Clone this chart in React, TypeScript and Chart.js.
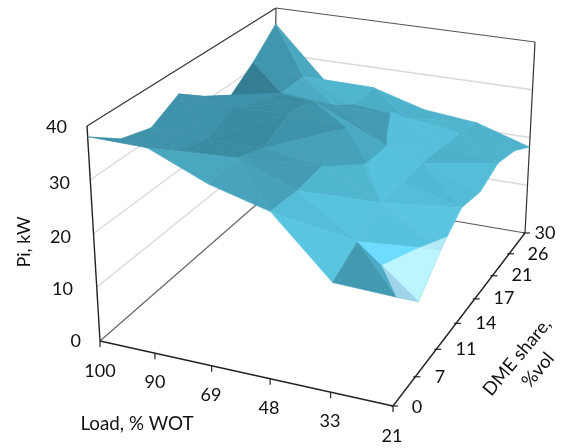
import React, { useEffect, useRef } from "react";
import { Chart, registerables } from "chart.js";
Chart.register(...registerables);

const loadTicks = ["100", "90", "69", "48", "33", "21"];
const dmeTicks = ["0", "7", "11", "14", "17", "21", "26", "30"];
const zTicks = [0, 10, 20, 30, 40];
// Pi, kW: one row per load, one value per DME share
const pi100 = [38, 33.7, 32, 35, 31, 27.4, 31.4, 36.5];
const pi90 = [37.8, 33.4, 31.5, 34, 31.5, 29.8, 29.8, 25.8];
const pi69 = [33, 33.7, 31.6, 34.5, 33.4, 28.9, 25.5, 25.6];
const pi48 = [30, 29.5, 30, 33.4, 22.6, 22.3, 24.4, 22.5];
const pi33 = [19.4, 22.2, 25, 24.7, 24.5, 23.8, 22.9, 21.4];
const pi21 = [19, 13.5, 18.3, 21.8, 20.7, 22.4, 21, 18];
const piRows = [pi100, pi90, pi69, pi48, pi33, pi21];

// lighting of each facet: 0 is the darkest teal, 1 the brightest blue
const facetLight: number[][][] = [
  [[.28, .28], [.28, .28], [.28, .28], [.28, .28], [.28, .27], [.02, .33], [.33, .55]],
  [[.22, .55], [.2, .2], [.2, .18], [.22, .22], [.2, .42], [.6, .68], [.72, .72]],
  [[.5, .48], [.38, .4], [.29, .45], [.3, .33], [.36, .58], [.36, .4], [.62, .68]],
  [[.82, .92], [.72, .9], [.72, .78], [.8, .72], [.88, .85], [.85, .85], [.68, .72]],
  [[.38, .6], [.88, 1], [.82, .92], [.75, .8], [.65, .82], [.7, .7], [.68, .68]],
];

// projection of the plot box on the page
const floorQuad = [[100, 341], [393, 406], [525, 233], [273, 190]];
const topQuad = [[87, 126], [401, 177], [535, 42], [276, 8]];

function homography(q: number[][]) {
  const [[x0, y0], [x1, y1], [x2, y2], [x3, y3]] = q;
  const dx1 = x1 - x2, dx2 = x3 - x2, sx = x0 - x1 + x2 - x3;
  const dy1 = y1 - y2, dy2 = y3 - y2, sy = y0 - y1 + y2 - y3;
  const den = dx1 * dy2 - dx2 * dy1;
  const g = (sx * dy2 - dx2 * sy) / den, h = (dx1 * sy - sx * dy1) / den;
  const a = x1 - x0 + g * x1, b = x3 - x0 + h * x3, d = y1 - y0 + g * y1, e = y3 - y0 + h * y3;
  return (s: number, t: number) => {
    const w = g * s + h * t + 1;
    return [(a * s + b * t + x0) / w, (d * s + e * t + y0) / w];
  };
}
const floorH = homography(floorQuad);
const topH = homography(topQuad);
const nI = loadTicks.length - 1, nJ = dmeTicks.length - 1;
function project(i: number, j: number, z: number) {
  const f = floorH(i / nI, j / nJ), t = topH(i / nI, j / nJ), k = z / 40;
  return { x: f[0] + (t[0] - f[0]) * k, y: f[1] + (t[1] - f[1]) * k };
}

const dark = [50, 124, 144], bright = [92, 203, 232];
function shade(t: number) {
  const c = Math.max(0, Math.min(1, t));
  return `rgb(${dark.map((d, n) => Math.round(d + (bright[n] - d) * c)).join(",")})`;
}
type V = [number, number, number];
function poly(vs: V[], color: string) {
  const data = vs.map((v) => project(v[0], v[1], v[2]));
  data.push(data[0]);
  return { data, showLine: true, fill: "shape", backgroundColor: color, borderColor: color, borderWidth: 0.6, pointRadius: 0, tension: 0 };
}
function seg(a: V, b: V, color: string, w: number) {
  return { data: [project(a[0], a[1], a[2]), project(b[0], b[1], b[2])], showLine: true, fill: false, borderColor: color, borderWidth: w, pointRadius: 0 };
}

function buildDatasets() {
  const out: any[] = [];
  // walls
  zTicks.slice(1, 4).forEach((z) => {
    out.push(seg([0, 0, z], [0, nJ, z], "#d9d9d9", 1.4));
    out.push(seg([0, nJ, z], [nI, nJ, z], "#d9d9d9", 1.4));
  });
  out.push(seg([0, 0, 0], [0, nJ, 0], "#666", 1.2));
  out.push(seg([0, nJ, 0], [nI, nJ, 0], "#555", 1.2));
  out.push(seg([0, nJ, 0], [0, nJ, 40], "#444", 1.2));
  out.push(seg([0, 0, 40], [0, nJ, 40], "#333", 1.2));
  out.push(seg([0, nJ, 40], [nI, nJ, 40], "#555", 1.2));
  out.push(seg([nI, nJ, 0], [nI, nJ, 40], "#333", 1.2));
  out.push(seg([0, 0, 0], [0, 0, 40], "#222", 1.4));
  out.push(seg([0, 0, 0], [nI, 0, 0], "#222", 1.4));
  out.push(seg([nI, 0, 0], [nI, nJ, 0], "#222", 1.4));
  // surface, back to front
  for (let i = 0; i < nI; i++) {
    for (let j = nJ - 1; j >= 0; j--) {
      const p = (ii: number, jj: number): V => [ii, jj, piRows[ii][jj]];
      const a = p(i, j), b = p(i + 1, j), c = p(i + 1, j + 1), d = p(i, j + 1);
      const tris: V[][] = a[2] + c[2] >= b[2] + d[2] ? [[a, c, d], [a, b, c]] : [[a, b, d], [b, c, d]];
      tris.forEach((t, n) => out.push(poly(t, shade(facetLight[i][j][n]))));
    }
  }
  // the folded middle of the surface
  out.push(poly([[3, 3, 33.4], [3, 4, 22.6], [3, 5, 22.3]], shade(.58)));
  out.push(poly([[3, 3, 33.4], [3, 2, 30], [3, 4, 22.6]], shade(.48)));
  out.push(poly([[3, 4, 22.6], [4, 2, 25], [4, 4, 24.5], [3, 5, 22.3]], shade(.88)));
  out.push(poly([[3, 5, 22.3], [3, 5, 25], [2.7, 6, 25.1], [3, 6, 24.4]], shade(.85)));
  // the folded front corner
  out.push(poly([[4, 1, 22.2], [5, 1, 13.5], [5, 2, 18.3]], "#6ddcff"));
  out.push(poly([[4.4, 1, 18.7], [4.75, 1.75, 19.3], [5, 2, 18.3], [5, 1, 13.5]], "#bdf5ff"));
  out.push(poly([[4.4, 1, 18.7], [5, 0, 19], [5, 1, 13.5]], "#9fd4ea"));
  out.push(poly([[4.75, 1.75, 19.3], [5, 2.3, 19.35], [5, 2, 18.3]], "#b5e9f8"));
  return out.reverse();
}

type L = { text: string; x: number; y: number; align?: CanvasTextAlign; rot?: number };
const loadPos = [[100, 371], [155, 382], [211, 395], [269, 408], [330, 421], [392, 436]];
const dmePos = [[417, 407], [440, 377], [466, 349], [486, 323], [504, 298], [522, 275], [538, 254], [545, 233]];
const zPos = [[81, 341], [73, 289], [71, 237], [70, 183], [67, 127]];

const labelPlugin = {
  id: "labels3d",
  afterDraw(chart: any) {
    const { ctx, scales } = chart;
    const X = (v: number) => scales.x.getPixelForValue(v);
    const Y = (v: number) => scales.y.getPixelForValue(v);
    const draw = (l: L, size = 18) => {
      ctx.save();
      ctx.font = `${size}px Lato`;
      ctx.fillStyle = "#111";
      ctx.textAlign = l.align || "center";
      ctx.textBaseline = "middle";
      ctx.translate(X(l.x), Y(l.y));
      ctx.rotate(((l.rot || 0) * Math.PI) / 180);
      ctx.fillText(l.text, 0, 0);
      ctx.restore();
    };
    loadTicks.forEach((t, n) => draw({ text: t, x: loadPos[n][0], y: loadPos[n][1] }));
    dmeTicks.forEach((t, n) => draw({ text: t, x: dmePos[n][0], y: dmePos[n][1] }));
    zTicks.forEach((t, n) => draw({ text: String(t), x: zPos[n][0], y: zPos[n][1], align: "right" }));
    draw({ text: "Pi, kW", x: 24, y: 242, rot: -90 }, 18);
    draw({ text: "Load, % WOT", x: 137, y: 424 }, 18.8);
    draw({ text: "DME share,", x: 517, y: 357, rot: -50 }, 18.5);
    draw({ text: "%vol", x: 538, y: 370, rot: -50 }, 18.5);
  },
};

function tickSets() {
  const out: any[] = [];
  loadTicks.forEach((_, n) => {
    const p = project(n, 0, 0);
    out.push({ data: [p, { x: p.x, y: p.y + 6 }], showLine: true, borderColor: "#222", borderWidth: 1.2, pointRadius: 0 });
  });
  dmeTicks.forEach((_, n) => {
    const p = project(nI, n, 0);
    out.push({ data: [{ x: p.x - 2, y: p.y }, { x: p.x + 5, y: p.y }], showLine: true, borderColor: "#222", borderWidth: 1.2, pointRadius: 0 });
  });
  return out;
}

export default function App() {
  const ref = useRef<HTMLCanvasElement>(null);
  useEffect(() => {
    document.body.style.margin = "0";
    const chart = new Chart(ref.current!, {
      type: "scatter",
      data: { datasets: [...tickSets(), ...buildDatasets()] },
      options: {
        animation: false,
        responsive: false,
        layout: { padding: 0 },
        plugins: { legend: { display: false }, tooltip: { enabled: false } },
        scales: {
          x: { type: "linear", min: 0, max: 568, display: false },
          y: { type: "linear", min: 0, max: 448, reverse: true, display: false },
        },
      },
      plugins: [labelPlugin],
    } as any);
    return () => chart.destroy();
  }, []);
  return <canvas ref={ref} width={568} height={448} style={{ display: "block" }} />;
}
